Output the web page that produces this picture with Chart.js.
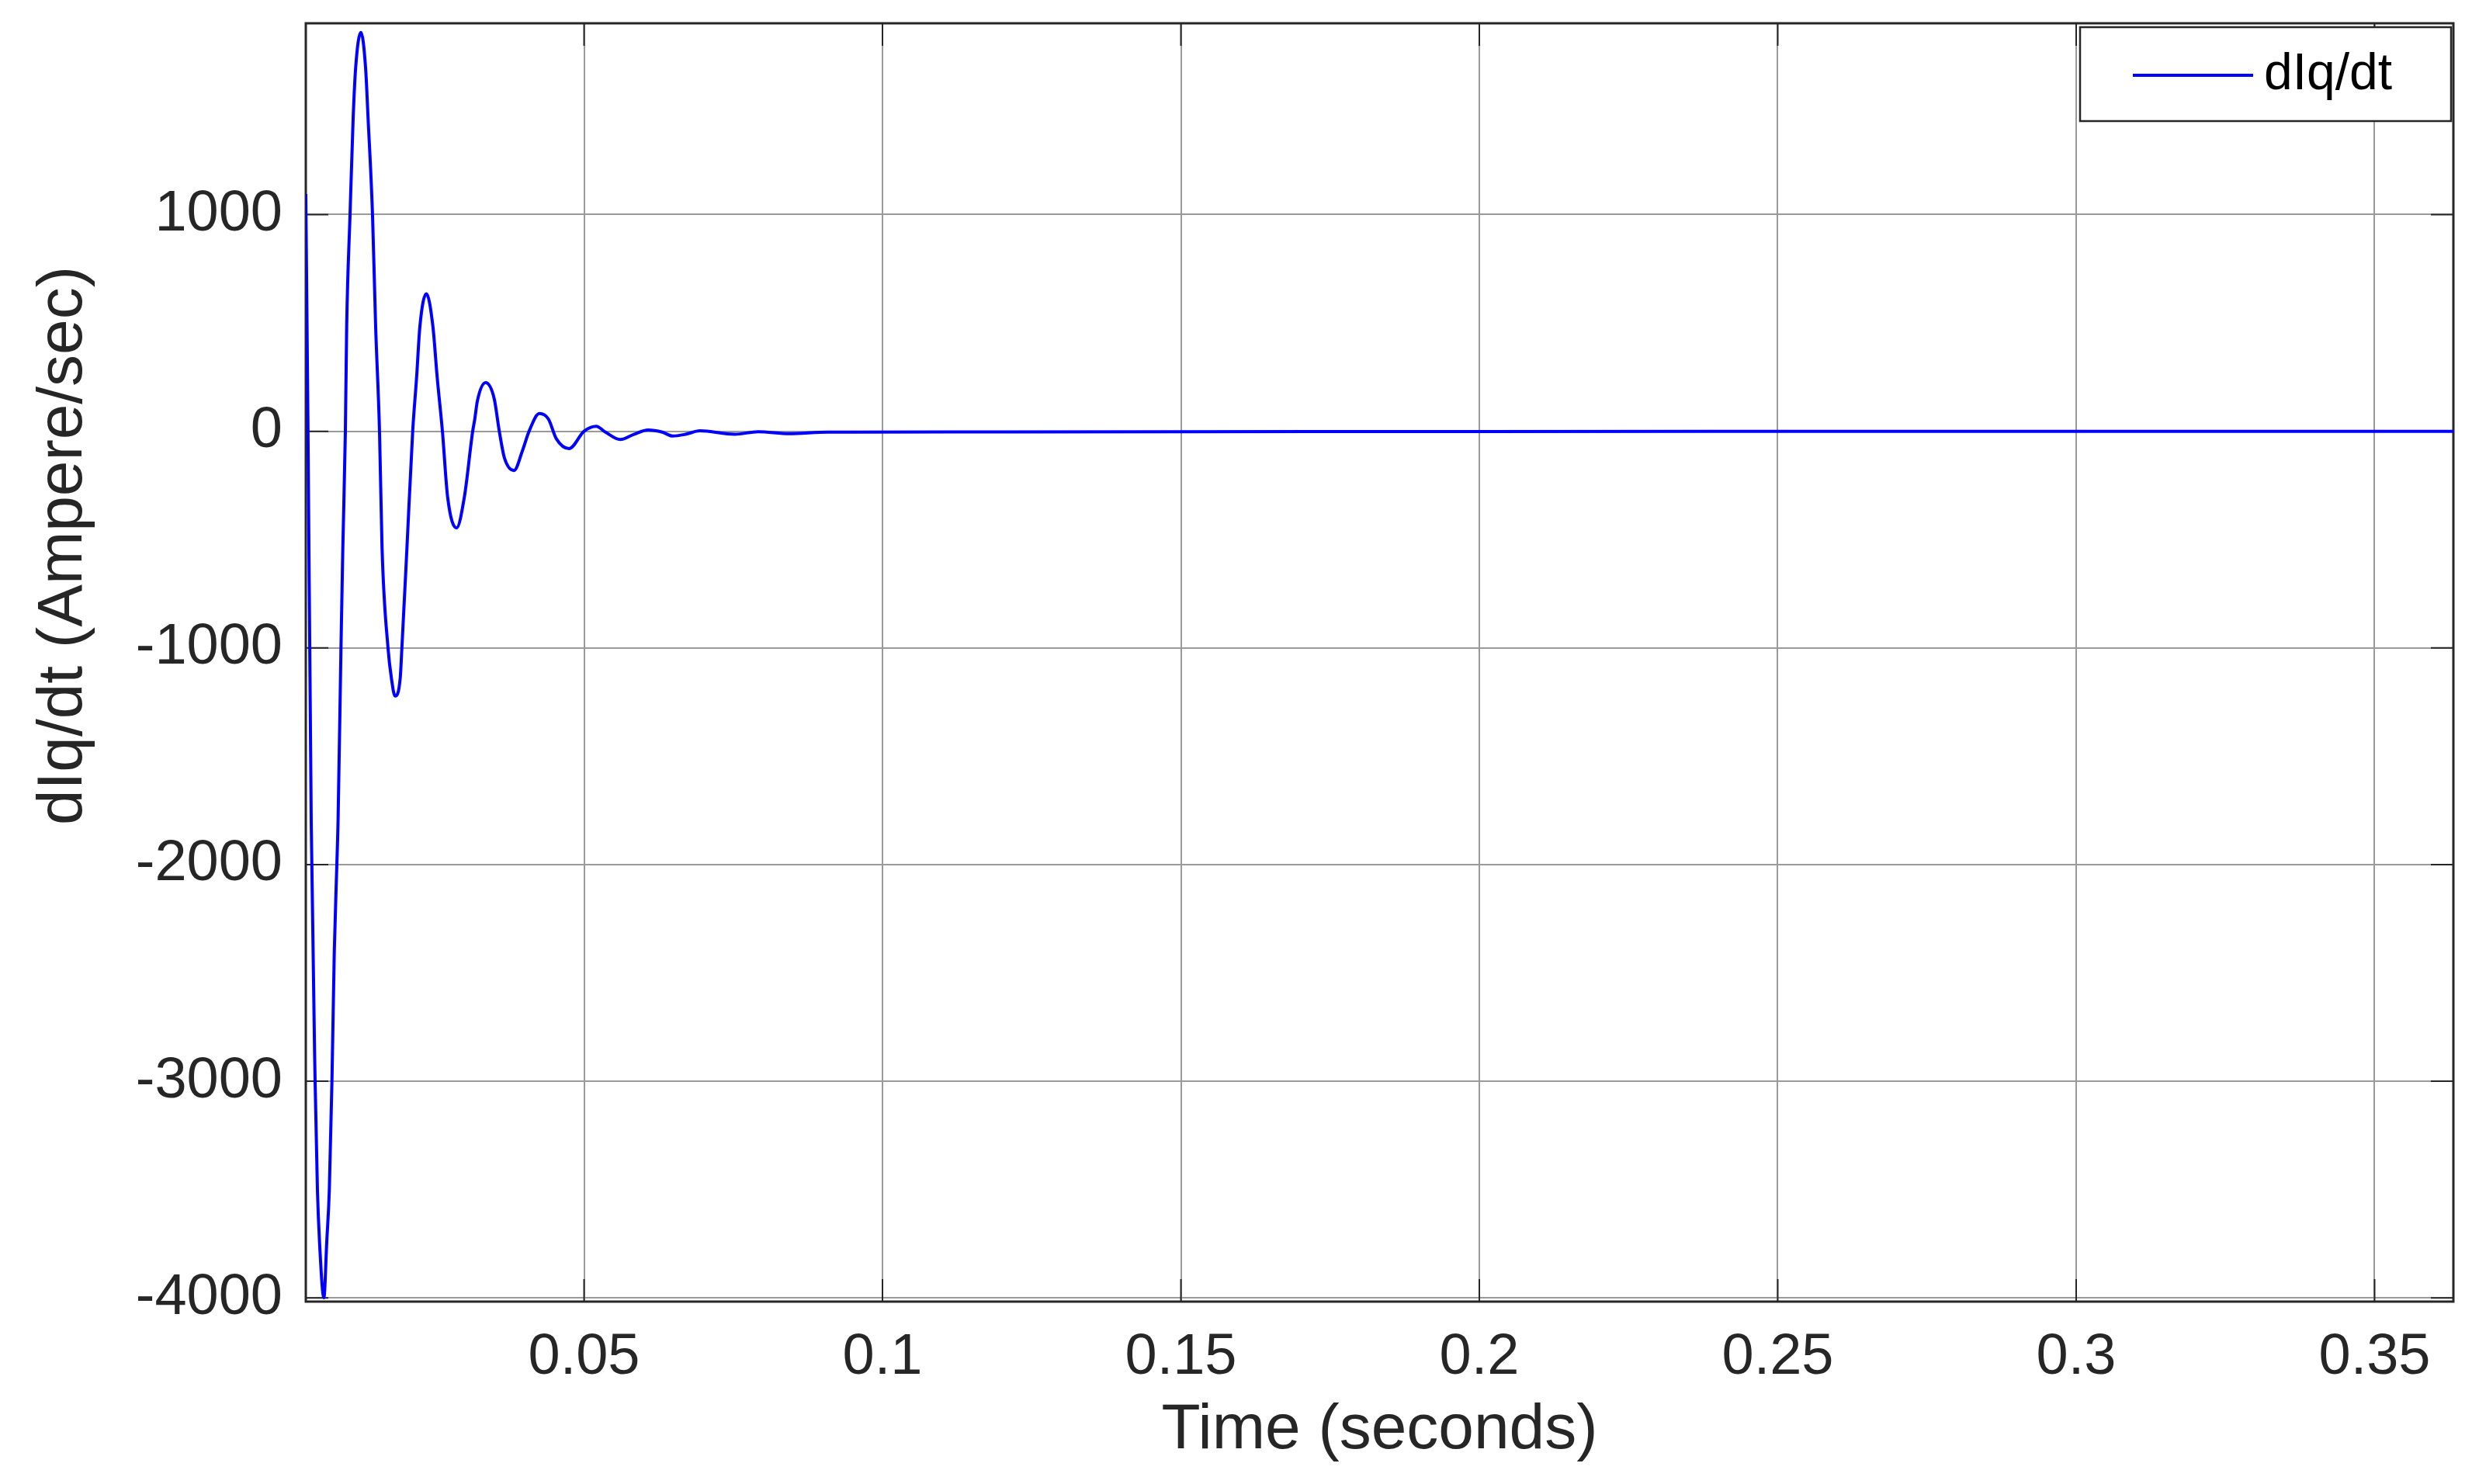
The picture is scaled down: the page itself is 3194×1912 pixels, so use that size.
<!DOCTYPE html>
<html>
<head>
<meta charset="utf-8">
<script src="https://cdn.jsdelivr.net/npm/chart.js@4/dist/chart.umd.min.js"></script>
<style>
html,body{margin:0;padding:0;background:#ffffff;}
canvas{display:block;}
</style>
</head>
<body>
<canvas id="c" width="3194" height="1912"></canvas>
<script>
// ---- data ----
const timeS = [
  0.00338, 0.00373, 0.00429, 0.00494, 0.00533, 0.00568, 0.00641, 0.00689, 0.00732, 0.00776,
  0.00815, 0.00858, 0.00878, 0.00927, 0.00958, 0.01001, 0.01023, 0.01079, 0.01131, 0.01174,
  0.01261, 0.01339, 0.01382, 0.01456, 0.01508, 0.01573, 0.01616, 0.01717, 0.01772, 0.01834,
  0.0192, 0.01947, 0.02032, 0.02129, 0.02194, 0.0225, 0.02358, 0.02467, 0.0254, 0.02627,
  0.02714, 0.02865, 0.02995, 0.03134, 0.03169, 0.03212, 0.03351, 0.03494, 0.0358, 0.03667,
  0.03827, 0.0397, 0.04079, 0.04252, 0.04404, 0.04534, 0.0475, 0.0500, 0.05205, 0.05358,
  0.05609, 0.05835, 0.06073, 0.06311, 0.06485, 0.06701, 0.0694, 0.07525, 0.07916, 0.08436,
  0.09086, 0.09519, 0.12, 0.15, 0.2, 0.25, 0.3, 0.3632
];
const dIqdt = [
  1095, 56, -1807, -3001, -3502, -3742, -3999, -3742, -3502, -3001,
  -2406, -2001, -1807, -1005, -542, 0, 485, 998, 1442, 1680,
  1841, 1680, 1442, 998, 485, 0, -542, -1005, -1139, -1222,
  -1139, -1005, -542, 0, 247, 485, 635, 485, 247, 0,
  -303, -446, -303, 0, 56, 139, 224, 151, 0, -124,
  -181, -88, 0, 82, 56, -34, -80, 0, 23, -4,
  -38, -14, 6, -4, -22, -14, 2, -14, -2, -11,
  -4, -4, -3, -2, -1, 0, 0, 0
];
const seriesLabel = 'dIq/dt';
const xTickValues = [0.05, 0.1, 0.15, 0.2, 0.25, 0.3, 0.35];
const xTickLabels = ['0.05', '0.1', '0.15', '0.2', '0.25', '0.3', '0.35'];
const yTickValues = [-4000, -3000, -2000, -1000, 0, 1000];
const yTickLabels = ['-4000', '-3000', '-2000', '-1000', '0', '1000'];
const xTitle = 'Time (seconds)';
const yTitle = 'dIq/dt (Ampere/sec)';
const xRange = [0.00338, 0.3632];
const yRange = [-4017, 1883];

// ---- styling ----
const FONT = '"Liberation Sans", Arial, Helvetica, sans-serif';
const TEXT = '#262626';
Chart.defaults.font.family = FONT;
Chart.defaults.color = TEXT;

function lookup(vals, labels, v) {
  for (let i = 0; i < vals.length; i++) if (Math.abs(vals[i] - v) < 1e-9) return labels[i];
  return '';
}

const matlabFrame = {
  id: 'matlabFrame',
  beforeDatasetsDraw(chart) {
    const {ctx, chartArea: a, scales: {x, y}} = chart;
    ctx.save();
    ctx.strokeStyle = TEXT;
    ctx.lineWidth = 2;
    const L = 29;
    ctx.beginPath();
    xTickValues.forEach(v => {
      const p = x.getPixelForValue(v);
      ctx.moveTo(p, a.bottom); ctx.lineTo(p, a.bottom - L);
      ctx.moveTo(p, a.top); ctx.lineTo(p, a.top + L);
    });
    yTickValues.forEach(v => {
      const p = y.getPixelForValue(v);
      ctx.moveTo(a.left, p); ctx.lineTo(a.left + L, p);
      ctx.moveTo(a.right, p); ctx.lineTo(a.right - L, p);
    });
    ctx.stroke();
    ctx.lineWidth = 3;
    ctx.strokeRect(a.left, a.top, a.right - a.left, a.bottom - a.top);
    ctx.restore();
  },
  afterDraw(chart) {
    const {ctx, chartArea: a} = chart;
    ctx.save();
    // y-axis title
    ctx.translate(82, 703);
    ctx.rotate(-Math.PI / 2);
    ctx.font = '82px ' + FONT;
    ctx.fillStyle = TEXT;
    ctx.textAlign = 'center';
    ctx.textBaseline = 'middle';
    ctx.fillText(chart.options.scales.y.title.text, 0, 0);
    ctx.restore();

    // legend box
    const ds = chart.data.datasets[0];
    const w = 478, h = 121;
    const x0 = a.right - 3 - w, y0 = a.top + 5;
    ctx.save();
    ctx.fillStyle = '#ffffff';
    ctx.fillRect(x0, y0, w, h);
    ctx.strokeStyle = TEXT;
    ctx.lineWidth = 2.5;
    ctx.strokeRect(x0, y0, w, h);
    const cy = y0 + 62;
    ctx.strokeStyle = ds.borderColor;
    ctx.lineWidth = 4;
    ctx.beginPath();
    ctx.moveTo(x0 + 68, cy); ctx.lineTo(x0 + 223, cy);
    ctx.stroke();
    ctx.font = '66px ' + FONT;
    ctx.fillStyle = '#000000';
    ctx.textAlign = 'left';
    ctx.textBaseline = 'middle';
    ctx.fillText(ds.label, x0 + 237, cy);
    ctx.restore();
  }
};

new Chart(document.getElementById('c'), {
  type: 'line',
  data: {
    datasets: [{
      label: seriesLabel,
      data: timeS.map((t, i) => ({x: t, y: dIqdt[i]})),
      borderColor: '#0000ff',
      backgroundColor: '#0000ff',
      borderWidth: 4,
      pointRadius: 0,
      fill: false,
      cubicInterpolationMode: 'monotone'
    }]
  },
  options: {
    responsive: false,
    devicePixelRatio: 1,
    animation: false,
    layout: {padding: {left: 0, right: 33, top: 30, bottom: 0}},
    plugins: {legend: {display: false}, tooltip: {enabled: false}},
    scales: {
      x: {
        type: 'linear',
        min: xRange[0], max: xRange[1],
        afterBuildTicks: s => { s.ticks = xTickValues.map(v => ({value: v})); },
        afterFit: s => { s.height = 235; s.paddingLeft = 0; s.paddingRight = 0; },
        grid: {color: '#9a9a9a', lineWidth: 2, drawTicks: false},
        border: {display: false},
        ticks: {
          font: {size: 74}, color: TEXT, padding: 28, maxRotation: 0, autoSkip: false,
          callback: v => lookup(xTickValues, xTickLabels, v)
        },
        title: {display: true, text: xTitle, font: {size: 82}, color: TEXT, padding: {top: 0, bottom: 19}}
      },
      y: {
        type: 'linear',
        min: yRange[0], max: yRange[1],
        afterBuildTicks: s => { s.ticks = yTickValues.map(v => ({value: v})); },
        afterFit: s => { s.width = 394; s.paddingTop = 0; s.paddingBottom = 0; },
        grid: {color: '#9a9a9a', lineWidth: 2, drawTicks: false},
        border: {display: false},
        ticks: {
          font: {size: 74}, color: TEXT, padding: 30, autoSkip: false,
          callback: v => lookup(yTickValues, yTickLabels, v)
        },
        title: {display: false, text: yTitle}
      }
    }
  },
  plugins: [matlabFrame]
});
</script>
</body>
</html>
